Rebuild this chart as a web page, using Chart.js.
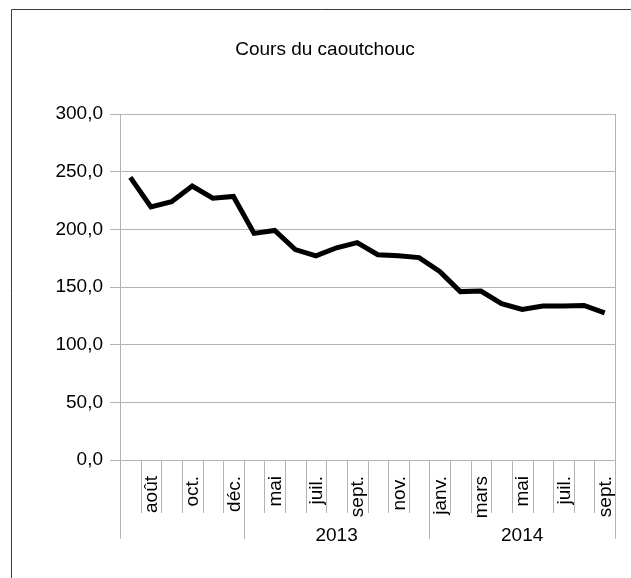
<!DOCTYPE html>
<html>
<head>
<meta charset="utf-8">
<script src="https://cdn.jsdelivr.net/npm/chart.js@4.4.1/dist/chart.umd.min.js"></script>
<style>
  html, body { margin: 0; padding: 0; background: #fff; }
  canvas { display: block; }
</style>
</head>
<body>
<canvas id="c" width="631" height="578"></canvas>
<script>
const chartTitle = 'Cours du caoutchouc';
const monthLabels = ['juil.','août','sept.','oct.','nov.','déc.',
  'avr.','mai','juin','juil.','août','sept.','oct.','nov.','déc.',
  'janv.','févr.','mars','avr.','mai','juin','juil.','août','sept.'];
const yearLabels = ['', '2013', '2014'];
const yearSpans = [6, 9, 9];
const prices = [245, 219.5, 224, 237.5, 227, 228.5, 196.5, 199, 182.5, 177, 184, 188.5,
  178, 177, 175.5, 163.5, 146, 146.5, 135.5, 130.5, 133.5, 133.5, 134, 127.5];
const yTicks = [0, 50, 100, 150, 200, 250, 300];

const FONT = '"Liberation Sans", Arial, sans-serif';
const GRID = '#b3b3b3';

const axisPlugin = {
  id: 'axisPlugin',
  beforeDraw(chart) {
    const ctx = chart.ctx;
    ctx.save();
    ctx.fillStyle = '#fff';
    ctx.fillRect(0, 0, chart.width, chart.height);
    ctx.restore();
  },
  afterDraw(chart) {
    const ctx = chart.ctx;
    const x = chart.scales.x;
    const ca = chart.chartArea;
    const n = monthLabels.length;
    const step = x.getPixelForValue(1) - x.getPixelForValue(0);
    const bnd = i => x.getPixelForValue(0) - step / 2 + i * step;
    const al = v => Math.round(v) + 0.5;
    ctx.save();
    ctx.strokeStyle = GRID;
    ctx.lineWidth = 1;
    // right border of plot
    ctx.beginPath();
    ctx.moveTo(al(ca.right), ca.top);
    ctx.lineTo(al(ca.right), ca.bottom);
    ctx.stroke();
    // month separators
    const groupStarts = [0];
    yearSpans.forEach(s => groupStarts.push(groupStarts[groupStarts.length - 1] + s));
    for (let i = 0; i <= n; i++) {
      const isGroup = groupStarts.includes(i);
      ctx.beginPath();
      ctx.moveTo(al(bnd(i)), ca.bottom);
      ctx.lineTo(al(bnd(i)), isGroup ? ca.bottom + 79 : ca.bottom + 53);
      ctx.stroke();
    }
    // month labels
    ctx.fillStyle = '#000';
    ctx.font = '19px ' + FONT;
    for (let i = 0; i < n; i++) {
      if (i % 2 !== 1) continue;
      ctx.save();
      ctx.translate(x.getPixelForValue(i) + 1, ca.bottom + 16);
      ctx.rotate(-Math.PI / 2);
      ctx.textAlign = 'right';
      ctx.textBaseline = 'middle';
      ctx.fillText(monthLabels[i], 0, 0);
      ctx.restore();
    }
    // year labels
    ctx.textAlign = 'center';
    ctx.textBaseline = 'alphabetic';
    for (let g = 0; g < yearLabels.length; g++) {
      const cx = (bnd(groupStarts[g]) + bnd(groupStarts[g + 1])) / 2;
      ctx.fillText(yearLabels[g], cx, ca.bottom + 81);
    }
    // outer frame
    ctx.strokeStyle = '#3a3a3a';
    ctx.beginPath();
    ctx.moveTo(11.5, chart.height);
    ctx.lineTo(11.5, 9.5);
    ctx.lineTo(chart.width, 9.5);
    ctx.stroke();
    ctx.restore();
  }
};

new Chart(document.getElementById('c'), {
  type: 'line',
  data: {
    labels: monthLabels,
    datasets: [{
      data: prices,
      borderColor: '#000',
      borderWidth: 5,
      pointRadius: 0,
      tension: 0,
      fill: false
    }]
  },
  options: {
    responsive: false,
    animation: false,
    devicePixelRatio: 1,
    layout: { padding: { left: 35, right: 16, top: 0, bottom: 0 } },
    plugins: {
      legend: { display: false },
      tooltip: { enabled: false },
      title: {
        display: true,
        text: chartTitle,
        color: '#000',
        font: { family: FONT, size: 19, weight: 'normal' },
        padding: { top: 38.6, bottom: 52.6 }
      }
    },
    scales: {
      x: {
        type: 'category',
        offset: true,
        grid: { display: false },
        border: { display: false },
        ticks: { display: false },
        afterFit: s => { s.height = 118; }
      },
      y: {
        min: 0,
        max: 300,
        afterBuildTicks: s => { s.ticks = yTicks.map(v => ({ value: v })); },
        ticks: {
          color: '#000',
          font: { family: FONT, size: 19 },
          padding: 7,
          callback: v => v.toFixed(1).replace('.', ',')
        },
        grid: { color: GRID, tickLength: 10, lineWidth: 1 },
        border: { color: GRID },
        afterFit: s => { s.width = 85; }
      }
    }
  },
  plugins: [axisPlugin]
});
</script>
</body>
</html>
